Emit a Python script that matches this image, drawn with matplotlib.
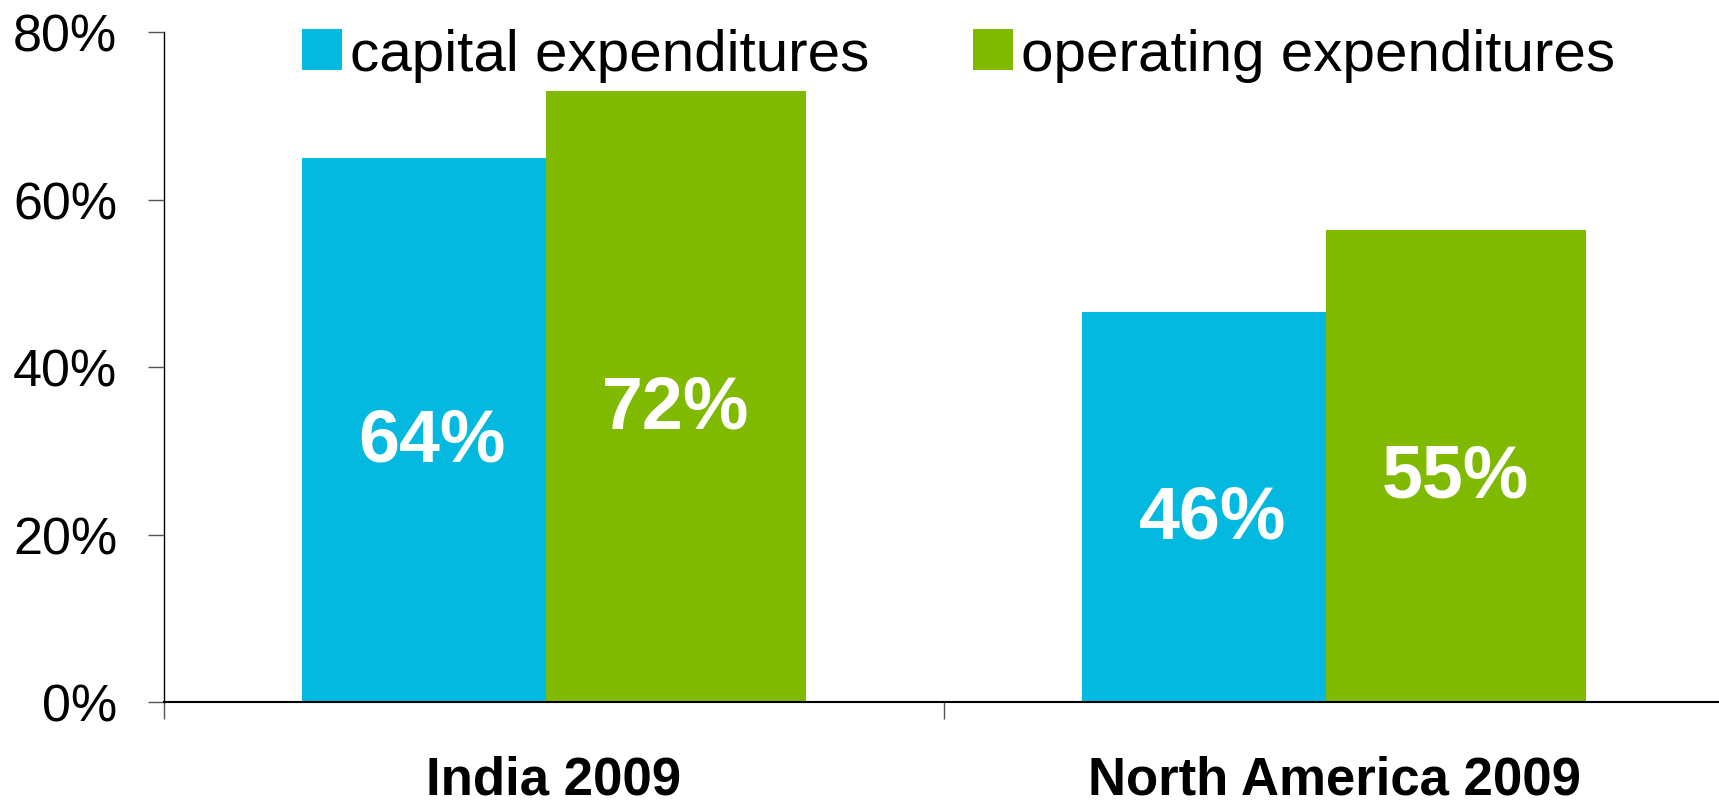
import matplotlib.pyplot as plt
from matplotlib.patches import Patch

plt.rcParams['font.family'] = ['Liberation Sans', 'DejaVu Sans']

# data
categories = ["India 2009", "North America 2009"]
capex = [64.9, 46.6]
opex = [72.9, 56.3]
capex_labels = ["64%", "46%"]
opex_labels = ["72%", "55%"]
series_names = ["capital expenditures", "operating expenditures"]
y_ticks = [0, 20, 40, 60, 80]

blue = "#03B9E0"
green = "#7FBA00"

fig = plt.figure(figsize=(17.19, 8.04), dpi=100)
left = 164 / 1719
right = 1724 / 1719
top = 1 - 33 / 804
bottom = 1 - 703 / 804
ax = fig.add_axes([left, bottom, right - left, top - bottom])

centers = [i + 0.5 for i in range(len(categories))]
offset = 0.156
width = 0.333

# blue first, green drawn over it (bars overlap slightly)
ax.bar([c - offset for c in centers], capex, width=width, color=blue, linewidth=0)
ax.bar([c + offset for c in centers], opex, width=width, color=green, linewidth=0)

for c, v, lab in zip(centers, capex, capex_labels):
    ax.annotate(lab, (c - offset, v / 2), xytext=(0, -8), textcoords='offset points',
                ha='center', va='center', color='white', fontsize=53, fontweight='bold')
for c, v, lab in zip(centers, opex, opex_labels):
    ax.annotate(lab, (c + offset, v / 2), xytext=(0, -8), textcoords='offset points',
                ha='center', va='center', color='white', fontsize=53, fontweight='bold')

ax.set_xlim(0, len(categories))
ax.set_ylim(0, 80)

ax.set_yticks(y_ticks)
ax.set_yticklabels([f"{t}%" for t in y_ticks], fontsize=37.5)
ax.tick_params(axis='y', direction='out', length=11.5, width=1, color='#555555', pad=22)

# category boundaries as major ticks, names as minor tick labels
ax.set_xticks(range(len(categories) + 1))
ax.set_xticklabels([])
ax.set_xticks(centers, minor=True)
ax.set_xticklabels(categories, minor=True, fontsize=38, fontweight='bold')
ax.tick_params(axis='x', which='major', direction='out', length=12, width=1, color='#555555')
ax.tick_params(axis='x', which='minor', length=0, pad=38)

for s in ['top', 'right']:
    ax.spines[s].set_visible(False)
ax.spines['left'].set_linewidth(1)
ax.spines['bottom'].set_linewidth(1.5)

handles = [Patch(facecolor=blue, edgecolor='none'), Patch(facecolor=green, edgecolor='none')]
fig.legend(handles, series_names, loc='center left', bbox_to_anchor=(302 / 1719, 1 - 56 / 804),
           ncol=2, frameon=False, fontsize=42, handlelength=0.69, handleheight=0.69,
           handletextpad=0.14, columnspacing=1.77, borderpad=0, borderaxespad=0)

fig.savefig("out.png", dpi=100)
